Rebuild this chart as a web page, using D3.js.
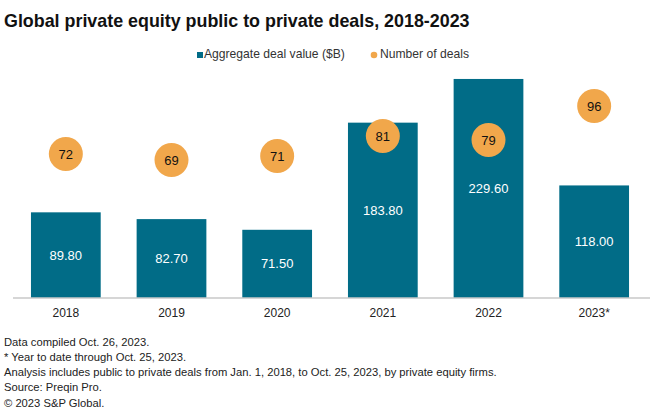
<!DOCTYPE html>
<html><head><meta charset="utf-8">
<script src="https://cdn.jsdelivr.net/npm/d3@7"></script>
<style>
html,body{margin:0;padding:0;background:#fff;}
svg{display:block;font-family:"Liberation Sans",Arial,sans-serif;}
</style></head>
<body><svg id="chart" width="660" height="420"></svg>
<script>
const categories = ["2018","2019","2020","2021","2022","2023*"];
const dealValues = [89.8, 82.7, 71.5, 183.8, 229.6, 118.0];
const dealCounts = [72, 69, 71, 81, 79, 96];
const valueLabels = ["89.80","82.70","71.50","183.80","229.60","118.00"];
const seriesNames = ["Aggregate deal value ($B)", "Number of deals"];
const titleText = "Global private equity public to private deals, 2018-2023";
const footnotes = [
  "Data compiled Oct. 26, 2023.",
  "* Year to date through Oct. 25, 2023.",
  "Analysis includes public to private deals from Jan. 1, 2018, to Oct. 25, 2023, by private equity firms.",
  "Source: Preqin Pro.",
  "\u00A9 2023 S&P Global."
];

const barColor = "#016c87", dotColor = "#f1a74b";
const svg = d3.select("#chart");

function fitWidth(sel, target){
  const w = sel.node().getComputedTextLength();
  const fs = parseFloat(sel.attr("font-size"));
  sel.attr("font-size", (fs * target / w).toFixed(2));
}

// title
const title = svg.append("text").attr("x", 4).attr("y", 27)
  .attr("font-size", 17).attr("font-weight", 700).attr("fill", "#111")
  .text(titleText);
fitWidth(title, 466);

// scales
const x = d3.scaleBand().domain(categories).range([13, 647]).paddingInner(0.34).paddingOuter(0.17);
const yVal = d3.scaleLinear().domain([0, 250]).range([298, 59.5]);
const yCnt = d3.scaleLinear().domain([0, 120]).range([298, 58]);

// bars
svg.append("g").selectAll("rect").data(dealValues).join("rect")
  .attr("x", (d,i) => x(categories[i]))
  .attr("width", x.bandwidth())
  .attr("y", d => yVal(d))
  .attr("height", d => yVal(0) - yVal(d))
  .attr("fill", barColor);

svg.append("g").selectAll("text").data(dealValues).join("text")
  .attr("x", (d,i) => x(categories[i]) + x.bandwidth()/2)
  .attr("y", d => (yVal(d) + yVal(0))/2)
  .attr("dy", "0.35em").attr("text-anchor", "middle")
  .attr("font-size", 13).attr("fill", "#fff")
  .text((d,i) => valueLabels[i]);

// axis
const xAxis = svg.append("g").attr("transform", "translate(0,298)")
  .call(d3.axisBottom(x).tickSize(0).tickPadding(10));
xAxis.select(".domain").attr("stroke", "#c8c8c8").attr("stroke-width", 1.5)
  .attr("d", "M13,0H650");
xAxis.selectAll("text").attr("font-size", 12).attr("fill", "#222")
  .attr("font-family", "Liberation Sans, Arial, sans-serif");

// dots
const dots = svg.append("g");
dots.selectAll("circle").data(dealCounts).join("circle")
  .attr("cx", (d,i) => x(categories[i]) + x.bandwidth()/2)
  .attr("cy", d => yCnt(d))
  .attr("r", 17)
  .attr("fill", dotColor);
dots.selectAll("text").data(dealCounts).join("text")
  .attr("x", (d,i) => x(categories[i]) + x.bandwidth()/2)
  .attr("y", d => yCnt(d))
  .attr("dy", "0.35em").attr("text-anchor", "middle")
  .attr("font-size", 13).attr("fill", "#111")
  .text(d => d);

// legend
const lg = svg.append("g");
lg.append("rect").attr("x", 197).attr("y", 52).attr("width", 6).attr("height", 6).attr("fill", barColor);
const lt1 = lg.append("text").attr("x", 204).attr("y", 58).attr("font-size", 12.5).attr("fill", "#333").text(seriesNames[0]);
fitWidth(lt1, 141);
lg.append("circle").attr("cx", 374).attr("cy", 55).attr("r", 3.3).attr("fill", dotColor);
const lt2 = lg.append("text").attr("x", 380).attr("y", 58).attr("font-size", 12.5).attr("fill", "#333").text(seriesNames[1]);
lt2.attr("font-size", lt1.attr("font-size"));

// footnotes
const fg = svg.append("g");
footnotes.forEach((t,i) => {
  fg.append("text").attr("x", 4).attr("y", 345.5 + i*15.25)
    .attr("font-size", 11).attr("fill", "#222").text(t);
});
fitWidth(fg.selectAll("text").filter((d,i)=>i===2), 493);
const fsz = fg.selectAll("text").filter((d,i)=>i===2).attr("font-size");
fg.selectAll("text").attr("font-size", fsz);
</script>
</body></html>
